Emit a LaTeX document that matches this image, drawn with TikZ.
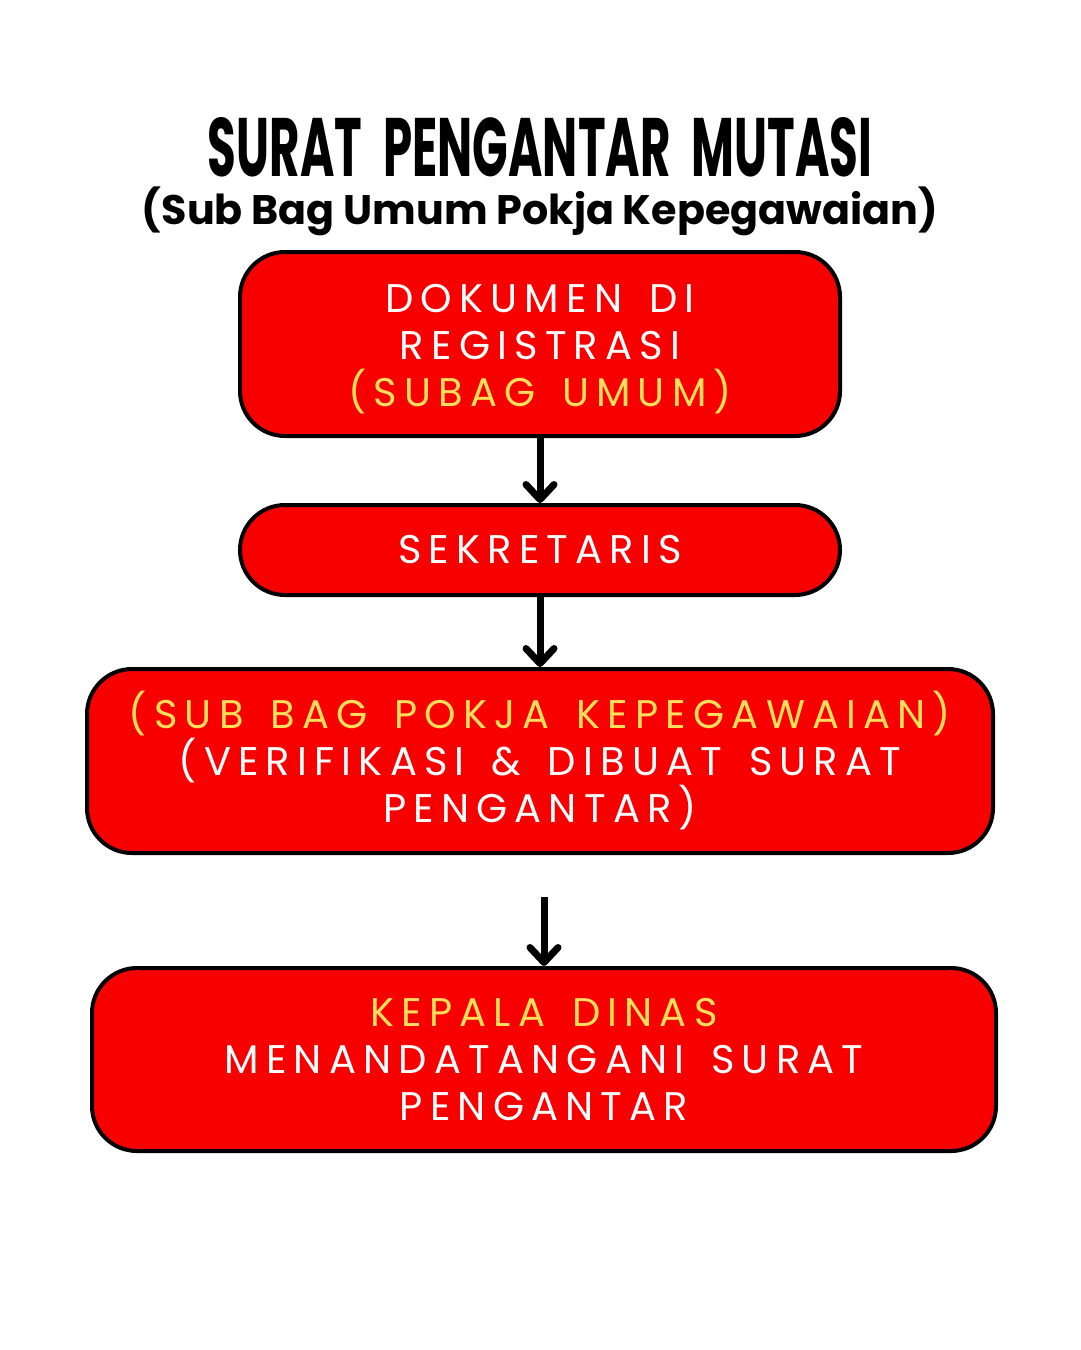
\documentclass[tikz,border=0pt]{standalone}
\usepackage{fontspec}
\setmainfont{Poppins}
\newfontfamily\boxfont[LetterSpace=18,WordSpace=1.5]{Poppins}
\usetikzlibrary{arrows.meta}
\definecolor{boxred}{HTML}{F90000}
\definecolor{labelyellow}{HTML}{FFDE59}

\begin{document}
\begin{tikzpicture}[x=1pt,y=-1pt,
  stepbox/.style={draw=black,line width=4pt,fill=boxred,rounded corners=45pt,
    text=white,align=center,inner sep=0pt,
    font=\boxfont\fontsize{40}{47}\selectfont},
  heading/.style={anchor=base,inner sep=0pt},
  flow/.style={line width=7pt,-{Straight Barb[round,length=15pt,width=28pt]}}]
  \useasboundingbox (0,0) rectangle (1080,1350);
  \node[heading] (title) at (540,176)
    {\resizebox{664pt}{59pt}{\bfseries SURAT\hspace{.45em}PENGANTAR\hspace{.45em}MUTASI}};
  \node[heading] (subtitle) at (540,224)
    {\resizebox{796pt}{!}{\bfseries\fontsize{46}{46}\selectfont (Sub Bag Umum Pokja Kepegawaian)}};
  \node[stepbox,minimum width=600pt,minimum height=184pt] (regis) at (540,344)
    {\\[-8pt]DOKUMEN DI\\REGISTRASI\\\textcolor{labelyellow}{(SUBAG UMUM)}};
  \node[stepbox,minimum width=600pt,minimum height=90pt] (sekre) at (540,550)
    {SEKRETARIS};
  \node[stepbox,minimum width=906pt,minimum height=184pt] (pokja) at (540,761)
    {\textcolor{labelyellow}{(SUB BAG POKJA KEPEGAWAIAN)}\\(VERIFIKASI \& DIBUAT SURAT\\PENGANTAR)};
  \node[stepbox,minimum width=904pt,minimum height=183pt] (kadis) at (544,1059.5)
    {\textcolor{labelyellow}{KEPALA DINAS}\\MENANDATANGANI SURAT\\PENGANTAR};
  \coordinate (gap) at (544,897);
  \draw[flow] (regis.south) -- (sekre.north);
  \draw[flow] (sekre.south) -- (pokja.north);
  \draw[flow] (gap) -- (kadis.north);
\end{tikzpicture}
\end{document}
